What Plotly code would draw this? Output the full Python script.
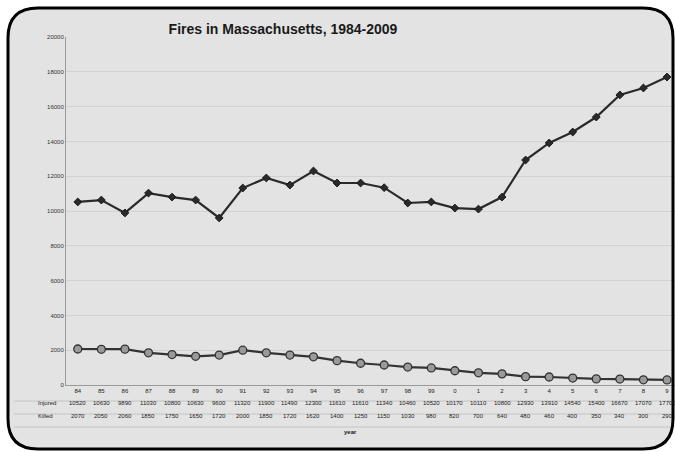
import plotly.graph_objects as go

years = list(range(1984, 2010))
year_labels = ["84", "85", "86", "87", "88", "89", "90", "91", "92", "93", "94", "95", "96",
               "97", "98", "99", "0", "1", "2", "3", "4", "5", "6", "7", "8", "9"]
series_a_name = "Injured"
series_b_name = "Killed"
series_a = [10520, 10630, 9890, 11030, 10800, 10630, 9600, 11320, 11900, 11490, 12300, 11610, 11610,
            11340, 10460, 10520, 10170, 10110, 10800, 12930, 13910, 14540, 15400, 16670, 17070, 17700]
series_b = [2070, 2050, 2060, 1850, 1750, 1650, 1720, 2000, 1850, 1720, 1620, 1400, 1250,
            1150, 1030, 980, 820, 700, 640, 480, 460, 400, 350, 340, 300, 290]
y_ticks = list(range(0, 20001, 2000))

W, H = 675, 452
L, R_PX, T, B = 66, 675, 37, 385


def px(x):
    return (x - L) / (R_PX - L)


def py(y):
    return (B - y) / (B - T)


idx = list(range(len(years)))
FONT = "Liberation Sans"

fig = go.Figure()
fig.add_trace(go.Scatter(
    x=idx, y=series_a, mode="lines+markers", name=series_a_name,
    line=dict(color="#2a2a2a", width=2.2),
    marker=dict(symbol="diamond", size=6, color="#2a2a2a", line=dict(color="#1a1a1a", width=1)),
))
fig.add_trace(go.Scatter(
    x=idx, y=series_b, mode="lines+markers", name=series_b_name,
    line=dict(color="#333333", width=2.2),
    marker=dict(symbol="circle", size=8, color="#9a9a9a", line=dict(color="#333", width=1.3)),
))

# rounded frame
l, t, r, b, rad = 8, 8, 673, 449, 30


def rr_path():
    pts = [
        f"M {px(l + rad)} {py(t)}",
        f"L {px(r - rad)} {py(t)}",
        f"Q {px(r)} {py(t)} {px(r)} {py(t + rad)}",
        f"L {px(r)} {py(b - rad)}",
        f"Q {px(r)} {py(b)} {px(r - rad)} {py(b)}",
        f"L {px(l + rad)} {py(b)}",
        f"Q {px(l)} {py(b)} {px(l)} {py(b - rad)}",
        f"L {px(l)} {py(t + rad)}",
        f"Q {px(l)} {py(t)} {px(l + rad)} {py(t)}",
        "Z",
    ]
    return " ".join(pts)


shapes = [
    dict(type="path", path=rr_path(), xref="paper", yref="paper",
         fillcolor="#e3e3e3", line=dict(width=0), layer="below"),
    dict(type="path", path=rr_path(), xref="paper", yref="paper",
         fillcolor="rgba(0,0,0,0)", line=dict(color="#000000", width=3), layer="above"),
]
for yy in [401, 414, 427]:
    shapes.append(dict(type="line", xref="paper", yref="paper", x0=px(14), x1=px(672),
                       y0=py(yy), y1=py(yy), line=dict(color="#c4c4c4", width=1), layer="below"))

tfont = dict(size=6, color="#222", family=FONT)
annotations = []
for i in idx:
    annotations.append(dict(x=i, y=py(408), xref="x", yref="paper", text=f"{series_a[i]}",
                            showarrow=False, font=tfont))
    annotations.append(dict(x=i, y=py(421), xref="x", yref="paper", text=f"{series_b[i]}",
                            showarrow=False, font=tfont))
annotations.append(dict(x=px(36), y=py(408), xref="paper", yref="paper", text=series_a_name,
                        showarrow=False, font=tfont))
annotations.append(dict(x=px(36), y=py(421), xref="paper", yref="paper", text=series_b_name,
                        showarrow=False, font=tfont))
annotations.append(dict(x=px(350), y=py(437), xref="paper", yref="paper", text="<b>year</b>",
                        showarrow=False, font=tfont))

fig.update_layout(
    width=W, height=H,
    margin=dict(l=L, r=W - R_PX, t=T, b=H - B),
    paper_bgcolor="white",
    plot_bgcolor="white",
    showlegend=False,
    title=dict(text="<b>Fires in Massachusetts, 1984-2009</b>", x=283 / W, xanchor="center",
               y=1 - 29 / H, yanchor="middle",
               font=dict(family=FONT, size=14, color="#1a1a1a")),
    shapes=shapes,
    annotations=annotations,
    xaxis=dict(
        range=[-0.5, (R_PX - L) / ((667 - L) / 25.5) - 0.5],
        tickmode="array", tickvals=idx, ticktext=year_labels,
        showgrid=False, zeroline=False, showline=True, linecolor="#9a9a9a", linewidth=1,
        ticks="", tickfont=dict(size=6, color="#222", family=FONT),
    ),
    yaxis=dict(
        range=[0, 20000], tickmode="array", tickvals=y_ticks,
        ticktext=[str(v) for v in y_ticks],
        showgrid=True, gridcolor="#d2d2d2", gridwidth=1, zeroline=False,
        showline=True, linecolor="#9a9a9a", linewidth=1, ticks="",
        tickfont=dict(size=6, color="#333", family=FONT),
    ),
)

fig.write_html("out.html")
